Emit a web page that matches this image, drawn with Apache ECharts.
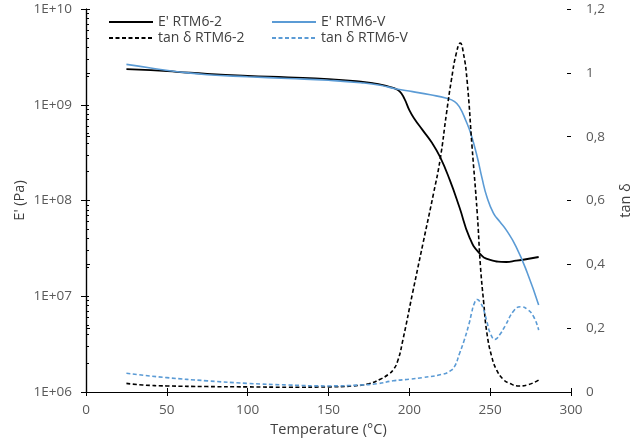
<!DOCTYPE html>
<html><head><meta charset="utf-8">
<script src="https://cdn.jsdelivr.net/npm/echarts@6/dist/echarts.min.js"></script>
<style>html,body{margin:0;padding:0;background:#fff}#c{width:632px;height:440px}</style>
</head><body><div id="c"></div>
<script>
// Temperature (°C) and storage modulus E' (Pa)
var tempE2 = [25,40,56,75,100,125,150,170,178,185,190,194,197,200,203,208,214,219,225,231,237,243,250,260,266,273,280];
var modE2  = [2.36e9,2.3e9,2.21e9,2.1e9,2.0e9,1.93e9,1.85e9,1.74e9,1.67e9,1.58e9,1.5e9,1.38e9,1.15e9,8.8e8,7.2e8,5.5e8,4.0e8,2.85e8,1.64e8,8.5e7,4.2e7,2.85e7,2.4e7,2.28e7,2.35e7,2.45e7,2.57e7];
var tempEV = [25,40,58,75,100,125,150,170,182,192,202,213,223,228,231,235,238,242,245,248,252,256,260,266,273,280];
var modEV  = [2.64e9,2.42e9,2.2e9,2.06e9,1.96e9,1.88e9,1.8e9,1.7e9,1.6e9,1.46e9,1.37e9,1.27e9,1.17e9,1.08e9,9.5e8,6.8e8,5.0e8,2.85e8,1.7e8,1.09e8,7.4e7,6.0e7,4.9e7,3.3e7,1.75e7,8.1e6];
// tan delta
var tempT2 = [25,35,50,75,100,125,150,165,175,182,187,190,193,196,202,208.5,215,219,223,226,229,231.5,233.5,235.7,238.8,242,244,246,248,251,254,258,262,268,273,280];
var tanT2  = [0.027,0.022,0.019,0.017,0.016,0.015,0.016,0.019,0.026,0.04,0.055,0.069,0.1,0.163,0.31,0.467,0.623,0.727,0.874,0.977,1.06,1.093,1.06,0.977,0.768,0.56,0.393,0.28,0.184,0.11,0.069,0.04,0.027,0.019,0.022,0.0376];
var tempTV = [25,50,75,100,125,150,170,180,190,200,208,220,225,228,231,234,237,238.5,240,242,244,246,248,250,253,256,259,265,269,273,277,280];
var tanTV  = [0.0585,0.045,0.035,0.027,0.022,0.019,0.022,0.026,0.035,0.04,0.045,0.055,0.065,0.08,0.12,0.163,0.215,0.247,0.275,0.29,0.28,0.257,0.22,0.185,0.165,0.18,0.205,0.257,0.267,0.259,0.235,0.194];
var names = ["E' RTM6-2","E' RTM6-V","tan δ RTM6-2","tan δ RTM6-V"];
var logMinor = [];
for (var d = 6; d < 10; d++) for (var k = 1; k <= 10; k++) logMinor.push(k * Math.pow(10, d));

function pairs(xs, ys){ return xs.map(function(x,i){ return [x, ys[i]]; }); }
var FONT = 'Open Sans';
var chart = echarts.init(document.getElementById('c'));
var lbl = {color:'#595959', fontFamily:FONT, fontSize:13.5};
var nameSt = {color:'#404040', fontFamily:FONT, fontSize:14.5};
var axLine = {show:true, lineStyle:{color:'#000', width:1.2}};
var legTxt = {color:'#404040', fontFamily:FONT, fontSize:14, lineHeight:14};
chart.setOption({
  animation:false,
  backgroundColor:'#fff',
  grid:{left:86, right:61, top:9, bottom:48, outerBoundsMode:'none', containLabel:false},
  legend:[
    {left:103, top:10, orient:'vertical', itemWidth:44, itemHeight:14, itemGap:2,
     itemStyle:{opacity:0}, data:[names[0], names[2]], textStyle:legTxt},
    {left:266, top:10, orient:'vertical', itemWidth:44, itemHeight:14, itemGap:2,
     itemStyle:{opacity:0}, data:[names[1], names[3]], textStyle:legTxt}
  ],
  xAxis:[
    {type:'value', min:0, max:300, interval:50, name:'Temperature (°C)', nameLocation:'middle', nameGap:26,
     nameTextStyle:nameSt, axisLine:axLine, axisTick:{show:true, inside:false, length:4, lineStyle:{color:'#000'}},
     axisLabel:Object.assign({margin:11}, lbl), splitLine:{show:false}},
    {type:'value', min:0, max:300, interval:50, position:'bottom', axisLine:{show:false},
     axisTick:{show:true, inside:true, length:4, lineStyle:{color:'#000'}}, axisLabel:{show:false}, splitLine:{show:false}}
  ],
  yAxis:[
    {type:'log', logBase:10, min:1e6, max:1e10, name:"E' (Pa)", nameLocation:'middle', nameGap:59, nameMoveOverlap:false,
     nameTextStyle:nameSt, axisLine:axLine, axisTick:{show:true, inside:false, length:5, lineStyle:{color:'#000'}},
     axisLabel:Object.assign({margin:14, formatter:function(v){var e=Math.round(Math.log10(v)); return '1E+'+(e<10?'0'+e:e);}}, lbl),
     splitLine:{show:false}},
    {type:'value', min:0, max:1.2, interval:0.2, position:'right', name:'tan δ', nameLocation:'middle', nameGap:47,
     nameTextStyle:nameSt, axisLine:axLine, axisTick:{show:true, inside:false, length:4, lineStyle:{color:'#000'}},
     axisLabel:Object.assign({margin:15, formatter:function(v){return String(+v.toFixed(1)).replace('.', ',');}}, lbl),
     splitLine:{show:false}},
    {type:'log', logBase:10, min:1e6, max:1e10, position:'left', axisLine:{show:false},
     axisTick:{show:true, inside:true, length:3, customValues:logMinor, lineStyle:{color:'#000'}},
     axisLabel:{show:false}, splitLine:{show:false}},
    {type:'value', min:0, max:1.2, interval:0.2, position:'right', axisLine:{show:false},
     axisTick:{show:true, inside:true, length:4, lineStyle:{color:'#000'}}, axisLabel:{show:false}, splitLine:{show:false}}
  ],
  series:[
    {name:names[0], type:'line', yAxisIndex:0, data:pairs(tempE2, modE2), symbol:'none', smooth:0.5,
     lineStyle:{color:'#000', width:1.8}, itemStyle:{color:'#000'}},
    {name:names[1], type:'line', yAxisIndex:0, data:pairs(tempEV, modEV), symbol:'none', smooth:0.5,
     lineStyle:{color:'#5B9BD5', width:1.6}, itemStyle:{color:'#5B9BD5'}},
    {name:names[2], type:'line', yAxisIndex:1, data:pairs(tempT2, tanT2), symbol:'none', smooth:0.5,
     lineStyle:{color:'#000', width:1.6, type:[4,2.5]}, itemStyle:{color:'#000'}},
    {name:names[3], type:'line', yAxisIndex:1, data:pairs(tempTV, tanTV), symbol:'none', smooth:0.5,
     lineStyle:{color:'#5B9BD5', width:1.6, type:[4,2.5]}, itemStyle:{color:'#5B9BD5'}}
  ]
});
</script></body></html>
